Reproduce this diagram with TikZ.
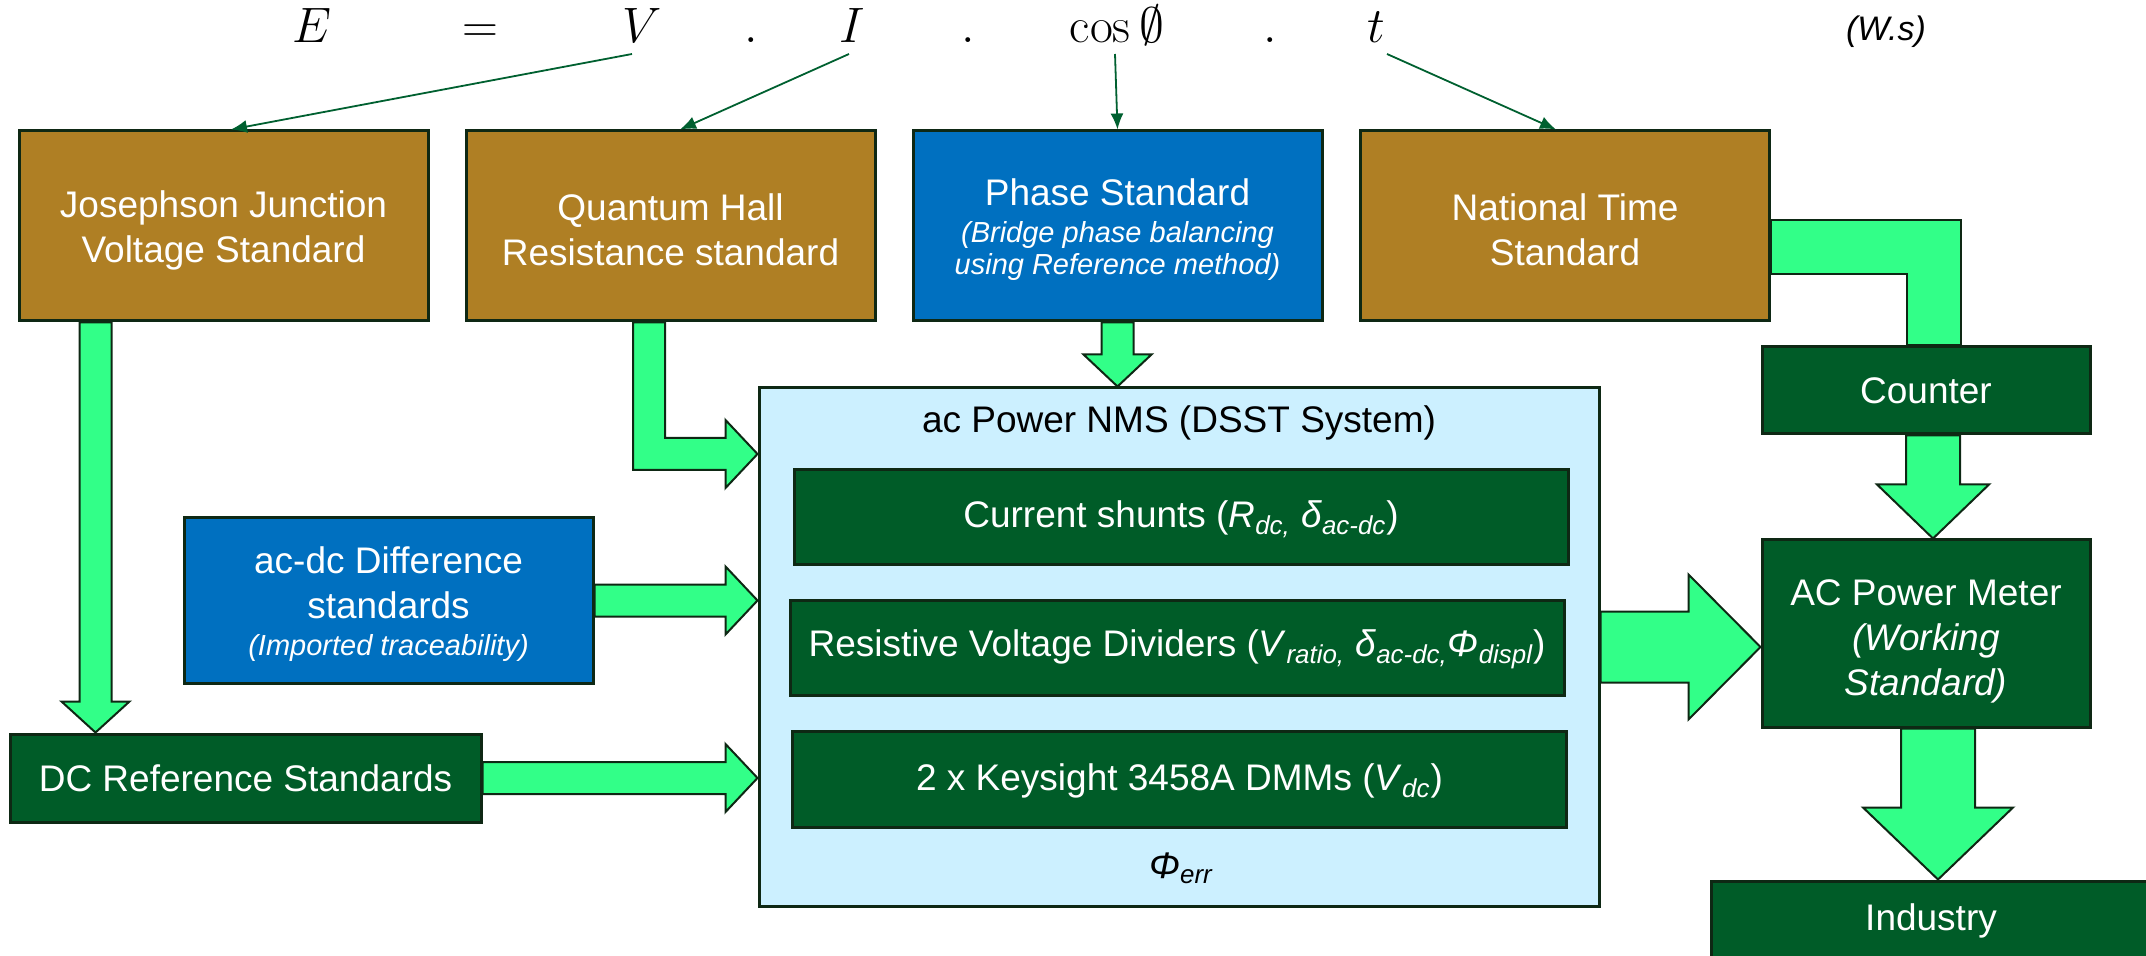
\documentclass[tikz,border=0pt]{standalone}
\usepackage[no-math]{fontspec}
\setmainfont{Liberation Sans}
\usetikzlibrary{arrows.meta,calc,backgrounds}

\definecolor{ochre}{RGB}{175,127,36}
\definecolor{stdblue}{RGB}{0,112,192}
\definecolor{deepgreen}{RGB}{0,92,40}
\definecolor{flowgreen}{RGB}{50,255,136}
\definecolor{paleblue}{RGB}{204,240,255}
\definecolor{rim}{RGB}{14,40,20}
\definecolor{pointer}{RGB}{0,96,48}

\newcommand\bigtxt{\fontsize{18.5}{22.5}\selectfont}
\newcommand\notetxt{\fontsize{14.5}{16.5}\selectfont\itshape}
\newcommand\eqtxt{\fontsize{23}{27}\selectfont}
\newcommand\unittxt{\fontsize{17}{20}\selectfont\itshape}
\newcommand\lo[1]{\textsubscript{\itshape #1}}
% taller first line, so a text block sits a little lower in its box
\newcommand\sink[1]{\rule{0pt}{\dimexpr 0.73em+#1\relax}}

% straight block arrow pointing down: start, tip, half shaft, half head, head length
\newcommand\downblock[5]{%
  \draw[blk] let \p1=(#1), \p2=(#2) in
    (\x1-#3,\y1) -- (\x1-#3,\y2+#5) -- (\x1-#4,\y2+#5) -- (\x1,\y2)
    -- (\x1+#4,\y2+#5) -- (\x1+#3,\y2+#5) -- (\x1+#3,\y1) -- cycle;}
% straight block arrow pointing right: start, tip, half shaft, half head, head length
\newcommand\rightblock[5]{%
  \draw[blk] let \p1=(#1), \p2=(#2) in
    (\x1,\y1+#3) -- (\x2-#5,\y1+#3) -- (\x2-#5,\y1+#4) -- (\x2,\y1)
    -- (\x2-#5,\y1-#4) -- (\x2-#5,\y1-#3) -- (\x1,\y1-#3) -- cycle;}

\begin{document}
\begin{tikzpicture}[x=0.5pt,y=-0.5pt,
  box/.style={draw=rim, line width=1.5pt, inner sep=0pt, align=center,
    text=white, font=\bigtxt},
  brownbox/.style={box, fill=ochre},
  bluebox/.style={box, fill=stdblue},
  greenbox/.style={box, fill=deepgreen},
  nmsbox/.style={box, fill=paleblue},
  topbox/.style={minimum width=204.5pt, minimum height=95pt},
  rowbox/.style={minimum width=387pt, minimum height=47.5pt},
  blk/.style={draw=rim, line width=1pt, fill=flowgreen, line join=miter},
  thinarr/.style={draw=pointer, line width=0.9pt,
    -{Latex[length=8pt,width=6.5pt]}},
  eq/.style={anchor=base, inner sep=0pt, font=\eqtxt},
  plain/.style={anchor=base, inner sep=0pt, font=\bigtxt, text=black}
]
\useasboundingbox (0,0) rectangle (2146,956);

% energy equation
\node[eq] (eE)   at (312,43)  {$E$};
\node[eq] (eeq)  at (480,43)  {$=$};
\node[eq] (eV)   at (642,43)  {$V$};
\node[eq] (ed1)  at (751,43)  {$.$};
\node[eq] (eI)   at (852,43)  {$I$};
\node[eq] (ed2)  at (968,43)  {$.$};
\node[eq] (ecos) at (1117,43) {$\cos\emptyset$};
\node[eq] (ed3)  at (1270,43) {$.$};
\node[eq] (et)   at (1376,43) {$t$};
\node[anchor=base, inner sep=0pt, font=\unittxt] (eunit) at (1886,41) {(W.s)};

% primary standards
\node[brownbox, topbox] (jj) at (223.5,226) {\sink{4pt}Josephson Junction\\Voltage Standard};
\node[brownbox, topbox] (qh) at (670.5,226) {\sink{4pt}Quantum Hall\\Resistance standard};
\node[bluebox, topbox] (phase) at (1117.5,226)
  {\sink{4pt}Phase Standard\\[-4pt]{\notetxt (Bridge phase balancing}\\[-6.5pt]{\notetxt using Reference method)}};
\node[brownbox, topbox] (nts) at (1565,226) {\sink{4pt}National Time\\Standard};

% supporting standards
\node[bluebox, minimum width=204.5pt, minimum height=82.5pt] (acdc) at (388.5,600.5)
  {\sink{4pt}ac-dc Difference\\standards\\[-4pt]{\notetxt (Imported traceability)}};
\node[greenbox, minimum width=235.5pt, minimum height=44pt] (dc) at (245.5,778)
  {DC Reference Standards};

% measurement system
\node[nmsbox, minimum width=420pt, minimum height=259pt] (nms) at (1179,647) {};
\node[plain] (nmstitle) at (1179,433) {ac Power NMS (DSST System)};
\node[greenbox, rowbox] (shunt) at (1181,517.5)
  {\sink{2pt}Current shunts (\textit{R}\lo{dc,} \textit{δ}\lo{ac-dc})};
\node[greenbox, rowbox] (divider) at (1177,647.5)
  {\sink{2pt}Resistive Voltage Dividers (\textit{V}\lo{ratio,} \textit{δ}\lo{ac-dc,}\textit{Φ}\lo{displ})};
\node[greenbox, rowbox, minimum height=48pt] (dmm) at (1179.5,779)
  {\sink{2pt}2 x Keysight 3458A DMMs (\textit{V}\lo{dc})};
\node[plain] (phierr) at (1181,878) {\itshape Φ\lo{err}};

% dissemination chain
\node[greenbox, minimum width=164pt, minimum height=43.5pt] (counter) at (1926,390.5) {Counter};
\node[greenbox, minimum width=164pt, minimum height=93.5pt] (acpm) at (1926,633.5)
  {\sink{7pt}AC Power Meter\\{\itshape (Working}\\{\itshape Standard)}};
\node[greenbox, minimum width=220pt, minimum height=40pt] (industry) at (1931,921) {Industry};

% pointers from the equation terms
\draw[thinarr] ([shift={(-10,11)}]eV.base) -- ([shift={(7.5,0)}]jj.north);
\draw[thinarr] ([shift={(-3,11)}]eI.base) -- ([shift={(9.5,0)}]qh.north);
\draw[thinarr] ([shift={(-2,11)}]ecos.base) -- (phase.north);
\draw[thinarr] ([shift={(11,11)}]et.base) -- ([shift={(-9,0)}]nts.north);

% traceability flow
\begin{scope}[on background layer]
  \downblock{[xshift=39pt]jj.south west}{[xshift=43.5pt]dc.north west}{8pt}{17pt}{15.5pt}
  \draw[blk] let \p1=([xshift=92.25pt]qh.south west), \p2=(nms.west),
                 \p3=([yshift=-33.75pt]nms.north west) in
    (\x1-8pt,\y1) -- (\x1-8pt,\y3-8pt) -- (\x2-16pt,\y3-8pt) -- (\x2-16pt,\y3-17pt)
    -- (\x2,\y3) -- (\x2-16pt,\y3+17pt) -- (\x2-16pt,\y3+8pt) -- (\x1+8pt,\y3+8pt)
    -- (\x1+8pt,\y1) -- cycle;
  \downblock{phase.south}{nms.north}{8pt}{17pt}{16pt}
  \rightblock{acdc.east}{nms.west}{8pt}{17pt}{16pt}
  \rightblock{dc.east}{nms.west}{8pt}{17pt}{16pt}
  \rightblock{nms.east}{acpm.west}{17.75pt}{36.25pt}{36pt}
  \draw[blk] let \p1=([yshift=-10.75pt]nts.east), \p2=([xshift=3.75pt]counter.north) in
    (\x1,\y1+13.5pt) -- (\x2+13.5pt,\y1+13.5pt) -- (\x2+13.5pt,\y2)
    -- (\x2-13.5pt,\y2) -- (\x2-13.5pt,\y1-13.5pt) -- (\x1,\y1-13.5pt) -- cycle;
  \downblock{[xshift=3.5pt]counter.south}{acpm.north}{13.5pt}{28pt}{27pt}
  \downblock{[xshift=6pt]acpm.south}{industry.north}{18.5pt}{37.5pt}{36pt}
\end{scope}
\end{tikzpicture}
\end{document}
